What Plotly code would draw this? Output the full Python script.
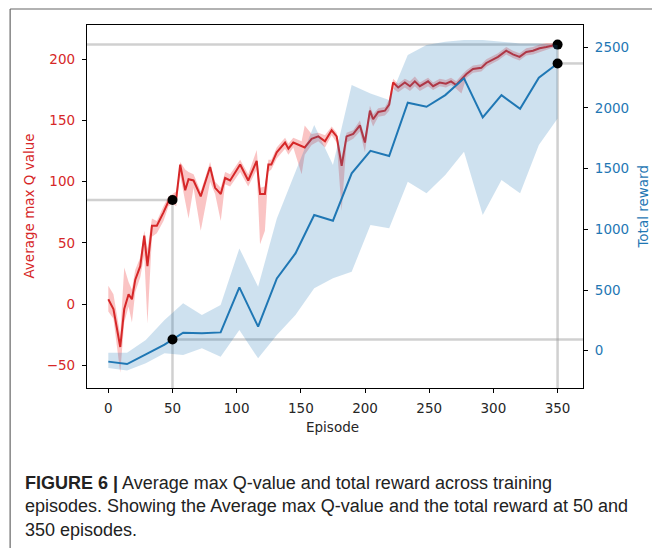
import plotly.graph_objects as go

# ---------------- data ----------------
# Average max Q value (left axis)
q_episode = [0, 4, 9.3, 12.4, 15.8, 18.4, 21, 24.9, 28, 30.5, 34, 37.8, 43, 46.9, 50,
             52.9, 56, 59.9, 62.5, 66.4, 72, 79.3, 83.2, 87.6, 91, 94.9, 102.7, 109,
             115.6, 118.2, 122, 124.7, 127, 131.2, 137.7, 140.3, 144.1, 150.6, 153,
             158.4, 163.6, 168.8, 174, 177.9, 181.8, 185.6, 190.8, 196, 199.9, 203.8,
             206.3, 210.3, 215.5, 218.8, 221.9, 225.8, 231, 235, 238.8, 242.7, 249.1,
             253, 258.2, 263, 267, 271, 275.1, 279, 284.1, 290.6, 294.5, 298, 303.6,
             310, 315.2, 320.4, 325.6, 330.8, 336, 341.2, 345, 350]
q_mean = [4, -4, -35, -4, 8, 4, 20, 31, 56, 31, 64, 64, 75, 84, 85,
          86, 114, 93, 102, 101, 88, 112, 95, 90, 103, 101, 114, 101,
          117, 90, 90, 114, 114, 124, 132, 127, 132, 129, 128,
          135, 137, 133, 142, 137, 113, 137, 139, 146, 132, 158,
          151, 157, 158, 163, 181, 177, 181, 178, 182, 178, 182,
          178, 181, 180, 182, 179, 184, 188, 192, 193, 197, 199, 202,
          207, 204, 202, 206, 207, 209, 210, 211, 212]
q_low = [-6, -12, -56, -15, -2, -15, 10, 22, 40, -16, 55, 58, 68, 80, 82,
         80, 105, 85, 70, 95, 60, 100, 90, 68, 98, 96, 108, 96,
         110, 49, 60, 108, 110, 119, 127, 122, 128, 106, 122,
         130, 133, 128, 138, 132, 76, 132, 135, 141, 124, 152,
         145, 153, 154, 158, 176, 173, 177, 174, 178, 174, 178,
         175, 178, 177, 179, 176, 172, 185, 189, 190, 194, 196, 199,
         204, 201, 199, 203, 204, 206, 208, 209, 210]
q_high = [15, 8, -25, 30, 18, 12, 28, 38, 60, 45, 70, 68, 80, 88, 90,
          92, 116, 110, 108, 106, 92, 116, 100, 95, 108, 106, 118, 106,
          126, 95, 96, 118, 118, 128, 136, 131, 136, 133, 146,
          139, 140, 138, 145, 140, 120, 140, 142, 150, 136, 162,
          155, 160, 161, 167, 184, 180, 184, 182, 186, 181, 185,
          181, 184, 183, 185, 182, 187, 191, 195, 196, 200, 202, 205,
          210, 207, 205, 209, 210, 212, 213, 213, 214]

# Total reward (right axis)
r_episode = [0, 14.6, 29.2, 43.8, 58.3, 72.9, 87.5, 102.1, 116.7, 131.3, 145.8, 160.4,
             175, 189.6, 204.2, 218.8, 233.3, 247.9, 262.5, 277.1, 291.7, 306.3,
             320.8, 335.4, 350]
r_mean = [-90, -110, -31, 50, 148, 143, 151, 522, 198, 596, 802, 1118,
          1071, 1461, 1647, 1604, 2043, 2010, 2106, 2244, 1922, 2106,
          1993, 2249, 2367]
r_low = [-143, -164, -104, -21, -35, 20, -49, 170, -63, 129, 294, 514,
         596, 651, 1035, 1008, 1392, 1297, 1447, 1639, 1118, 1406,
         1297, 1694, 1914]
r_high = [-16, -16, 88, 253, 390, 294, 376, 843, 527, 1090, 1475, 1859,
          1530, 2189, 2120, 2065, 2436, 2518, 2545, 2560, 2560, 2545,
          2532, 2532, 2518]

# highlighted points at 50 and 350 episodes
hl_episode = [50, 350]
hl_q = [85, 212]
hl_r = [92, 2367]

x_ticks = [0, 50, 100, 150, 200, 250, 300, 350]
yq_ticks = [-50, 0, 50, 100, 150, 200]
yr_ticks = [0, 500, 1000, 1500, 2000, 2500]

x_range = [-16.6, 369.8]
yq_range = [-68.5, 228]
yr_range = [-307.3, 2683.7]

RED = "#d62728"
BLUE = "#1f77b4"
GREY = "rgba(150,150,150,0.45)"
FONT = "DejaVu Sans"

fig = go.Figure()

# red band + line (left axis)
fig.add_trace(go.Scatter(x=q_episode, y=q_high, mode="lines", line=dict(width=0),
                         hoverinfo="skip", showlegend=False))
fig.add_trace(go.Scatter(x=q_episode, y=q_low, mode="lines", line=dict(width=0),
                         fill="tonexty", fillcolor="rgba(240,60,60,0.3)",
                         hoverinfo="skip", showlegend=False))
fig.add_trace(go.Scatter(x=q_episode, y=q_mean, mode="lines",
                         line=dict(color=RED, width=2), showlegend=False))
fig.add_trace(go.Scatter(x=hl_episode, y=hl_q, mode="markers",
                         marker=dict(color="black", size=10), showlegend=False))

# blue band + line (right axis)
fig.add_trace(go.Scatter(x=r_episode, y=r_high, mode="lines", line=dict(width=0),
                         yaxis="y2", hoverinfo="skip", showlegend=False))
fig.add_trace(go.Scatter(x=r_episode, y=r_low, mode="lines", line=dict(width=0),
                         fill="tonexty", fillcolor="rgba(31,119,180,0.22)",
                         yaxis="y2", hoverinfo="skip", showlegend=False))
fig.add_trace(go.Scatter(x=r_episode, y=r_mean, mode="lines", yaxis="y2",
                         line=dict(color=BLUE, width=2), showlegend=False))
fig.add_trace(go.Scatter(x=hl_episode, y=hl_r, mode="markers", yaxis="y2",
                         marker=dict(color="black", size=10), showlegend=False))

# reference lines
shapes = [
    dict(type="line", xref="x", yref="y", x0=x_range[0], x1=hl_episode[0], y0=hl_q[0], y1=hl_q[0]),
    dict(type="line", xref="x", yref="y", x0=x_range[0], x1=hl_episode[1], y0=hl_q[1], y1=hl_q[1]),
    dict(type="line", xref="x", yref="y", x0=hl_episode[0], x1=hl_episode[0], y0=yq_range[0], y1=hl_q[0]),
    dict(type="line", xref="x", yref="y", x0=hl_episode[1], x1=hl_episode[1], y0=yq_range[0], y1=hl_q[1]),
    dict(type="line", xref="x", yref="y2", x0=hl_episode[0], x1=x_range[1], y0=hl_r[0], y1=hl_r[0]),
    dict(type="line", xref="x", yref="y2", x0=hl_episode[1], x1=x_range[1], y0=hl_r[1], y1=hl_r[1]),
]
for s in shapes:
    s["line"] = dict(color=GREY, width=2.5)
    s["layer"] = "below"

# outer frame of the figure panel
shapes.append(dict(type="line", xref="paper", yref="paper", x0=-0.155, x1=1.2,
                   y0=(388 - 9) / 363, y1=(388 - 9) / 363,
                   line=dict(color="#666666", width=1.2)))
shapes.append(dict(type="line", xref="paper", yref="paper", x0=(10 - 87) / 496.8, x1=(10 - 87) / 496.8,
                   y0=(388 - 9) / 363, y1=-0.6,
                   line=dict(color="#666666", width=1.2)))

axis_common = dict(showline=True, linecolor="black", linewidth=1.3, ticks="outside",
                   ticklen=4, tickwidth=1.2, tickcolor="black", showgrid=False,
                   zeroline=False)

fig.update_layout(
    width=652, height=548,
    margin=dict(l=87, r=68.5, t=25, b=160),
    paper_bgcolor="white", plot_bgcolor="white",
    font=dict(family=FONT, size=13.5, color="#262626"),
    shapes=shapes,
    xaxis=dict(range=x_range, tickvals=x_ticks, mirror=True, ticklabelstandoff=4,
               **axis_common),
    yaxis=dict(range=yq_range, tickvals=yq_ticks, tickfont=dict(color=RED),
               ticklabelstandoff=4, **axis_common),
    yaxis2=dict(range=yr_range, tickvals=yr_ticks, overlaying="y", side="right",
                tickfont=dict(color=BLUE), ticklabelstandoff=4, **axis_common),
    annotations=[
        dict(text="Episode", xref="paper", yref="paper", x=(333 - 87) / 496.8,
             y=(388 - 427) / 363, showarrow=False, xanchor="center", yanchor="middle",
             font=dict(family=FONT, size=13.5, color="#262626")),
        dict(text="Average max Q value", xref="paper", yref="paper", x=(28 - 87) / 496.8,
             y=0.5, textangle=-90, showarrow=False, xanchor="center", yanchor="middle",
             font=dict(family=FONT, size=13.5, color=RED)),
        dict(text="Total reward", xref="paper", yref="paper", x=(643 - 87) / 496.8,
             y=0.5, textangle=-90, showarrow=False, xanchor="center", yanchor="middle",
             font=dict(family=FONT, size=13.5, color=BLUE)),
        dict(text="<b>FIGURE 6 |</b> Average max Q-value and total reward across training<br>"
                  "episodes. Showing the Average max Q-value and the total reward at 50 and<br>"
                  "350 episodes.",
             xref="paper", yref="paper", x=(23 - 87) / 496.8, y=(388 - 471) / 363,
             xanchor="left", yanchor="top", align="left", showarrow=False,
             font=dict(family="Liberation Sans", size=18, color="#222222")),
    ],
)

fig.write_html("out.html")
